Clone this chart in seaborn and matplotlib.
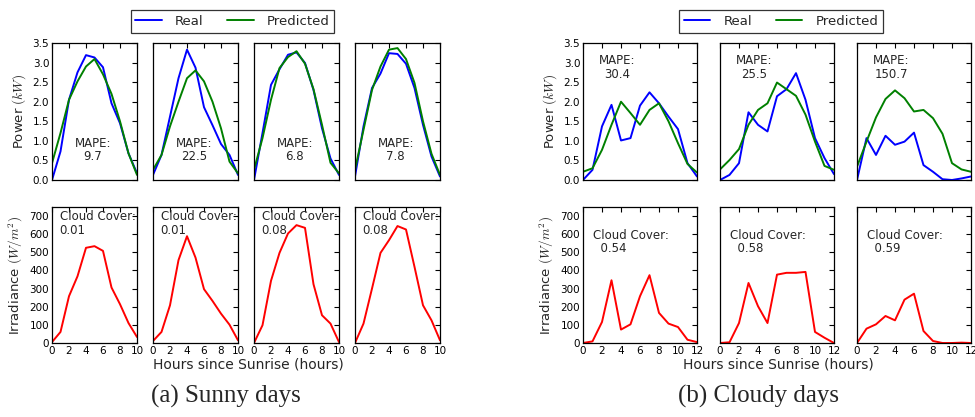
import matplotlib
matplotlib.use("Agg")
import matplotlib.pyplot as plt
import seaborn as sns
import numpy as np
import pandas as pd

sns.set_theme(style="white")
plt.rcParams['font.family'] = ['DejaVu Sans']
plt.rcParams['mathtext.fontset'] = 'cm'

# ---------------- data ----------------
sunny_hours = list(range(11))
sunny_real = [
    [0.0, 0.73, 2.05, 2.75, 3.19, 3.13, 2.88, 1.96, 1.45, 0.68, 0.17],
    [0.13, 0.64, 1.62, 2.60, 3.33, 2.87, 1.86, 1.40, 0.92, 0.64, 0.13],
    [0.0, 1.20, 2.43, 2.83, 3.20, 3.26, 2.99, 2.30, 1.32, 0.55, 0.13],
    [0.09, 1.37, 2.35, 2.72, 3.24, 3.22, 2.97, 2.35, 1.41, 0.60, 0.09],
]
sunny_pred = [
    [0.43, 1.20, 2.05, 2.52, 2.90, 3.09, 2.70, 2.20, 1.50, 0.68, 0.13],
    [0.26, 0.64, 1.37, 2.00, 2.60, 2.80, 2.52, 2.00, 1.32, 0.47, 0.17],
    [0.26, 1.07, 2.05, 2.86, 3.14, 3.29, 2.97, 2.32, 1.41, 0.44, 0.17],
    [0.26, 1.28, 2.30, 2.90, 3.33, 3.37, 3.09, 2.48, 1.50, 0.67, 0.13],
]
sunny_irr = [
    [5, 61, 258, 368, 525, 534, 508, 306, 214, 110, 33],
    [11, 61, 208, 457, 589, 471, 297, 232, 162, 101, 15],
    [0, 98, 343, 497, 604, 650, 635, 324, 153, 107, 5],
    [0, 107, 300, 497, 567, 645, 626, 420, 208, 125, 15],
]
sunny_mape = ["9.7", "22.5", "6.8", "7.8"]
sunny_cloud = ["0.01", "0.01", "0.08", "0.08"]

cloudy_hours = list(range(13))
cloudy_real = [
    [0.0, 0.26, 1.37, 1.92, 1.01, 1.07, 1.90, 2.24, 1.96, 1.62, 1.30, 0.43, 0.09],
    [0.0, 0.13, 0.43, 1.73, 1.41, 1.24, 2.14, 2.32, 2.73, 2.05, 1.07, 0.56, 0.15],
    [0.0, 1.07, 0.64, 1.13, 0.90, 0.98, 1.21, 0.38, 0.21, 0.02, 0.0, 0.04, 0.09],
]
cloudy_pred = [
    [0.21, 0.30, 0.77, 1.41, 2.00, 1.71, 1.41, 1.79, 1.96, 1.50, 0.94, 0.41, 0.19],
    [0.27, 0.51, 0.79, 1.41, 1.79, 1.96, 2.49, 2.32, 2.15, 1.67, 0.98, 0.36, 0.26],
    [0.34, 0.98, 1.60, 2.07, 2.29, 2.09, 1.75, 1.79, 1.58, 1.18, 0.43, 0.27, 0.21],
]
cloudy_irr = [
    [0, 9, 116, 346, 74, 103, 258, 374, 166, 107, 88, 18, 5],
    [0, 4, 110, 331, 203, 110, 377, 387, 387, 392, 61, 29, 0],
    [0, 79, 103, 149, 125, 239, 272, 66, 11, 0, 0, 2, 0],
]
cloudy_mape = ["30.4", "25.5", "150.7"]
cloudy_cloud = ["0.54", "0.58", "0.59"]

# ---------------- layout ----------------
W, H = 975, 417
fig = plt.figure(figsize=(W / 100, H / 100), dpi=100)


def px_axes(left, top, width, height):
    return fig.add_axes([left / W, (H - top - height) / H, width / W, height / H])


def style(ax):
    ax.set_facecolor('white')
    for s in ax.spines.values():
        s.set_color('black')
        s.set_linewidth(0.9)
        s.set_visible(True)
    ax.tick_params(direction='in', length=3.5, width=0.8, top=True, right=True,
                   labelsize=7.5, pad=2, colors='black')
    ax.grid(False)


BLUE, GREEN, RED = '#0000ff', '#008000', '#ff0000'
LW = 1.4


def draw_group(lefts, width, hours, real, pred, irr, mapes, clouds, xmax,
               xticks, mape_pos, cloud_pos, cloud_fmt):
    top_axes = []
    for i, left in enumerate(lefts):
        ax = px_axes(left, 43, width, 137)
        style(ax)
        df = pd.DataFrame({'h': hours, 'real': real[i], 'pred': pred[i]})
        sns.lineplot(data=df, x='h', y='real', ax=ax, color=BLUE, lw=LW, label='Real', legend=False)
        sns.lineplot(data=df, x='h', y='pred', ax=ax, color=GREEN, lw=LW, label='Predicted', legend=False)
        ax.set_xlim(0, xmax)
        ax.set_ylim(0, 3.5)
        ax.set_yticks(np.arange(0, 3.51, 0.5))
        ax.set_xticks(xticks)
        ax.tick_params(labelbottom=False)
        ax.set_xlabel('')
        if i == 0:
            ax.set_ylabel(r'Power $(kW)$', fontsize=9.5, labelpad=3)
        else:
            ax.set_ylabel('')
            ax.tick_params(labelleft=False)
        ax.text(mape_pos[0], mape_pos[1], 'MAPE:\n' + mapes[i], transform=ax.transAxes,
                ha='center', va='center', fontsize=8.5, multialignment='center', linespacing=1.05)
        top_axes.append(ax)

        bx = px_axes(left, 207, width, 136)
        style(bx)
        dfi = pd.DataFrame({'h': hours, 'irr': irr[i]})
        sns.lineplot(data=dfi, x='h', y='irr', ax=bx, color=RED, lw=LW, legend=False)
        bx.set_xlim(0, xmax)
        bx.set_ylim(0, 750)
        bx.set_yticks(np.arange(0, 701, 100))
        bx.set_xticks(xticks)
        bx.set_xlabel('')
        if i == 0:
            bx.set_ylabel(r'Irradiance $(W/m^2)$', fontsize=9.5, labelpad=3)
        else:
            bx.set_ylabel('')
            bx.tick_params(labelleft=False)
        bx.text(cloud_pos[0], cloud_pos[1], cloud_fmt.format(clouds[i]), transform=bx.transAxes,
                ha='left', va='top', fontsize=8.5, linespacing=1.05, clip_on=False)
    return top_axes


sunny_lefts = [52, 153, 254, 355]
cloudy_lefts = [583, 720, 857]

sa = draw_group(sunny_lefts, 85, sunny_hours, sunny_real, sunny_pred, sunny_irr,
                sunny_mape, sunny_cloud, 10, [0, 2, 4, 6, 8, 10],
                (0.48, 0.22), (0.09, 0.975), 'Cloud Cover:\n{}')
ca = draw_group(cloudy_lefts, 114, cloudy_hours, cloudy_real, cloudy_pred, cloudy_irr,
                cloudy_mape, cloudy_cloud, 12, [0, 2, 4, 6, 8, 10, 12],
                (0.3, 0.82), (0.09, 0.84), 'Cloud Cover:\n  {}')

for axes, cx in [(sa, 232.5), (ca, 781)]:
    h, l = axes[0].get_legend_handles_labels()
    leg = fig.legend(h, l, loc='center', bbox_to_anchor=(cx / W, (H - 21.5) / H), ncol=2,
                     frameon=True, fancybox=False, fontsize=9.5, handlelength=2.0,
                     columnspacing=1.8, borderpad=0.35, handletextpad=1.0, borderaxespad=0)
    leg.get_frame().set_edgecolor('black')
    leg.get_frame().set_linewidth(0.9)

fig.text(248 / W, (H - 365) / H, 'Hours since Sunrise (hours)', ha='center', va='center', fontsize=10)
fig.text(778 / W, (H - 365) / H, 'Hours since Sunrise (hours)', ha='center', va='center', fontsize=10)

fig.text(226 / W, (H - 396) / H, '(a) Sunny days', ha='center', va='center', fontsize=18,
         family=['Liberation Serif', 'DejaVu Serif'])
fig.text(758 / W, (H - 396) / H, '(b) Cloudy days', ha='center', va='center', fontsize=18,
         family=['Liberation Serif', 'DejaVu Serif'])

fig.savefig('out.png', dpi=100, facecolor='white')
